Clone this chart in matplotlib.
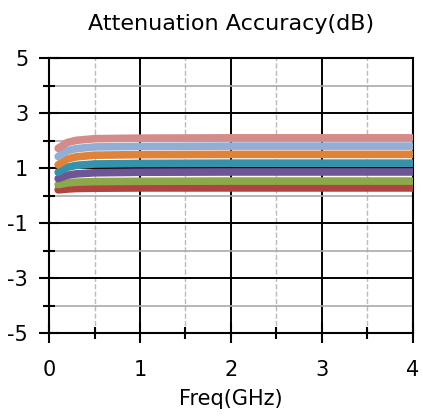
import matplotlib
matplotlib.use("agg")
from matplotlib import pyplot as plt
from matplotlib.ticker import MultipleLocator

plt.rcParams["axes.unicode_minus"] = False

freq = [0.1, 0.2, 0.3, 0.5, 1.0, 2.0, 3.0, 4.0]
pink = [1.72, 1.93, 2.01, 2.07, 2.09, 2.10, 2.10, 2.10]
blue = [1.42, 1.63, 1.71, 1.77, 1.79, 1.80, 1.80, 1.80]
orange = [1.12, 1.33, 1.41, 1.47, 1.49, 1.50, 1.50, 1.50]
teal = [0.85, 1.03, 1.10, 1.15, 1.17, 1.18, 1.18, 1.18]
purple = [0.62, 0.74, 0.79, 0.83, 0.85, 0.86, 0.86, 0.86]
green = [0.40, 0.46, 0.49, 0.51, 0.52, 0.53, 0.53, 0.53]
red = [0.21, 0.24, 0.26, 0.27, 0.28, 0.28, 0.28, 0.28]

series = [red, green, purple, teal, orange, blue, pink]
colors = ["#B0433F", "#8CA84B", "#6E5596", "#3592AA", "#E0823A", "#93AED4", "#D48C8A"]

fig = plt.figure(figsize=(4.23, 4.18), dpi=100)
ax = fig.add_axes([0.116, 0.203, 0.86, 0.658])

for vals, c in zip(series, colors):
    ax.plot(freq, vals, color=c, lw=5.5, solid_capstyle="round", zorder=3)

ax.set_xlim(0, 4)
ax.set_ylim(-5, 5)
ax.xaxis.set_major_locator(MultipleLocator(1))
ax.xaxis.set_minor_locator(MultipleLocator(0.5))
ax.yaxis.set_minor_locator(MultipleLocator(1))
ax.set_yticks([-5, -3, -1, 1, 3, 5])

ax.grid(which="major", color="black", lw=1.4, zorder=1)
ax.grid(which="minor", axis="x", color="#BBBBBB", lw=1, ls="--", zorder=1)
ax.grid(which="minor", axis="y", color="#AAAAAA", lw=1.2, zorder=1)

for s in ax.spines.values():
    s.set_linewidth(1.5)
ax.tick_params(which="both", direction="inout", width=1.5, labelsize=15)
ax.tick_params(which="major", length=14)
ax.tick_params(axis="x", which="major", pad=12)
ax.tick_params(axis="y", which="major", pad=8)
ax.tick_params(which="minor", length=9)

ax.set_title("Attenuation Accuracy(dB)", fontsize=16, pad=20)
ax.set_xlabel("Freq(GHz)", fontsize=15, labelpad=7)

fig.savefig("out.png", dpi=100)
